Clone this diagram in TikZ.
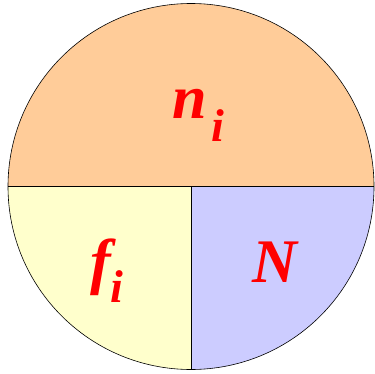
\documentclass[tikz,border=0pt]{standalone}
\usepackage{fontspec}
\setmainfont{Liberation Serif}
\usepackage{xcolor}
\usetikzlibrary{positioning}

\definecolor{peach}{HTML}{FFCC99}
\definecolor{paleyellow}{HTML}{FFFFCC}
\definecolor{lavender}{HTML}{CCCCFF}

\tikzset{
    sector/.style={draw=black, line width=0.6pt},
    biglabel/.style={text=red, font=\fontsize{62}{70}\selectfont\bfseries\itshape, inner sep=0pt},
    sublabel/.style={text=red, font=\fontsize{46}{50}\selectfont\bfseries\itshape, inner sep=0pt}
}

\begin{document}
\begin{tikzpicture}[x=1pt,y=-1pt]
\useasboundingbox (0,0) rectangle (374,374);

\def\cx{191}
\def\cy{186.5}
\def\r{183}

% top half
\fill[peach] (\cx-\r,\cy) arc[start angle=180, end angle=360, radius=\r] -- cycle;
% bottom left quarter
\fill[paleyellow] (\cx,\cy) -- (\cx-\r,\cy) arc[start angle=180, end angle=90, radius=\r] -- cycle;
% bottom right quarter
\fill[lavender] (\cx,\cy) -- (\cx,\cy+\r) arc[start angle=90, end angle=0, radius=\r] -- cycle;

\draw[sector] (\cx,\cy) circle[radius=\r];
\draw[sector] (\cx-\r,\cy) -- (\cx+\r,\cy);
\draw[sector] (\cx,\cy) -- (\cx,\cy+\r);

\node[biglabel, anchor=base] (n) at (190,119) {n};
\node[sublabel, anchor=base west] (ni) at (211,142) {i};

\node[biglabel, anchor=base] (f) at (101,282) {f};
\node[sublabel, anchor=base west] (fi) at (110,302) {i};

\node[biglabel, anchor=base] (N) at (275,282) {N};

\end{tikzpicture}
\end{document}
